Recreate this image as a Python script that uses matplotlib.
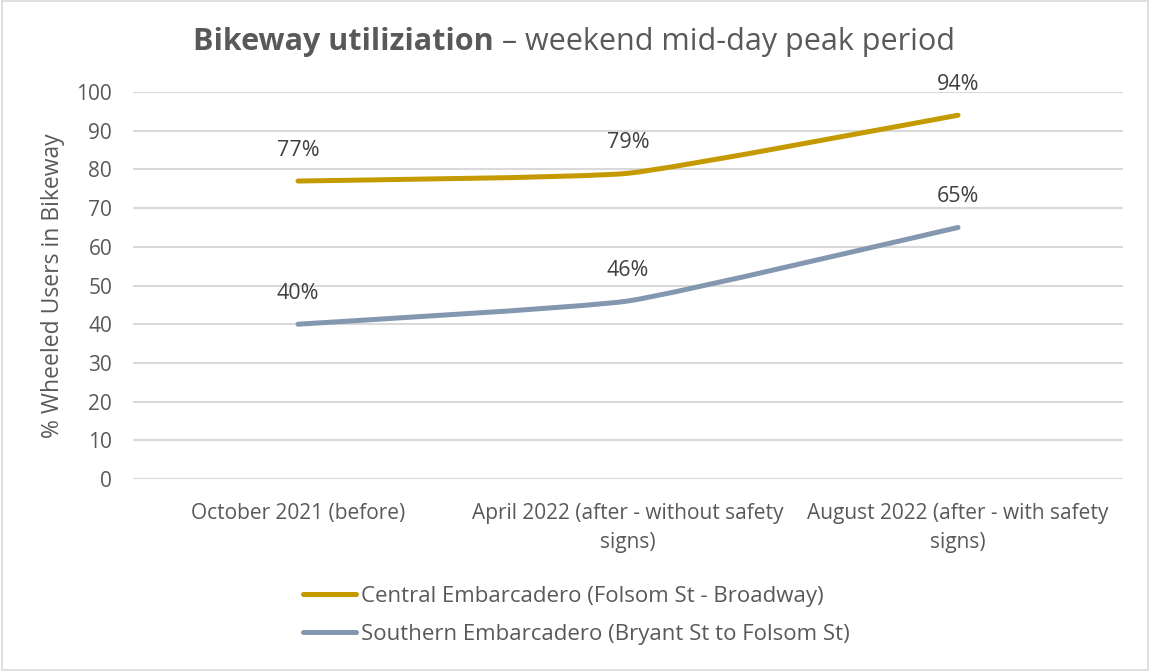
import matplotlib.pyplot as plt
from matplotlib.path import Path
from matplotlib.patches import PathPatch, Rectangle
from matplotlib.lines import Line2D

categories = ["October 2021 (before)",
              "April 2022 (after - without safety\nsigns)",
              "August 2022 (after - with safety\nsigns)"]
central = [77, 79, 94]
southern = [40, 46, 65]
series_names = ["Central Embarcadero (Folsom St - Broadway)",
                "Southern Embarcadero (Bryant St to Folsom St)"]
colors = ["#C49A00", "#8497B0"]
yticks = list(range(0, 101, 10))

plt.rcParams['font.family'] = ['Open Sans', 'DejaVu Sans']
text_color = '#595959'


def smooth_path(xs, ys, k=0.07):
    # cubic bezier through the points, a mild version of excel's smoothed line
    pts = list(zip(xs, ys))
    n = len(pts)
    verts = [pts[0]]
    codes = [Path.MOVETO]
    for i in range(n - 1):
        p0 = pts[i - 1] if i > 0 else pts[i]
        p1 = pts[i]
        p2 = pts[i + 1]
        p3 = pts[i + 2] if i + 2 < n else pts[i + 1]
        c1 = (p1[0] + (p2[0] - p0[0]) * k, p1[1] + (p2[1] - p0[1]) * k)
        c2 = (p2[0] - (p3[0] - p1[0]) * k, p2[1] - (p3[1] - p1[1]) * k)
        verts += [c1, c2, p2]
        codes += [Path.CURVE4] * 3
    return Path(verts, codes)


fig = plt.figure(figsize=(11.5, 6.71), dpi=100)
ax = fig.add_axes([133 / 1150, 1 - 479 / 671, 990 / 1150, 387 / 671])

x = list(range(len(categories)))
for vals, c in zip([central, southern], colors):
    ax.add_patch(PathPatch(smooth_path(x, vals), facecolor='none', edgecolor=c,
                           lw=3.6, capstyle='round', joinstyle='round', zorder=3))
    for xi, v in zip(x, vals):
        ax.annotate(f"{v}%", (xi, v), xytext=(0, 22), textcoords='offset points',
                    ha='center', va='center', fontsize=15.5, color='#404040')

ax.set_xlim(-0.5, len(categories) - 0.5)
ax.set_ylim(0, 100)
ax.set_yticks(yticks)
ax.set_xticks(x)
ax.set_xticklabels(categories, fontsize=15, color=text_color, linespacing=1.55)
ax.tick_params(axis='y', length=0, pad=15, labelsize=15, labelcolor=text_color)
ax.tick_params(axis='x', length=0, pad=17)
ax.grid(axis='y', color='#D9D9D9', lw=1.5)
ax.set_axisbelow(True)
for s in ax.spines.values():
    s.set_visible(False)
ax.set_ylabel("% Wheeled Users in Bikeway", fontsize=16.5, color=text_color, labelpad=8)

handles = [Line2D([], [], color=c, lw=3.6, solid_capstyle='round') for c in colors]
fig.legend(handles, series_names, loc='upper left', bbox_to_anchor=(303 / 1150, 1 - 586 / 671),
           frameon=False, fontsize=16, labelcolor=text_color, handlelength=2.4,
           handletextpad=0.2, labelspacing=0.75, borderpad=0, borderaxespad=0)

# title: bold part + normal part
t1 = fig.text(193 / 1150, 1 - 50 / 671, "Bikeway utiliziation", fontsize=22,
              fontweight='bold', color=text_color, va='baseline', ha='left')
fig.canvas.draw()
bb = t1.get_window_extent()
fig.text(bb.x1 / 1150, 1 - 50 / 671, " \u2013 weekend mid-day peak period", fontsize=22,
         color=text_color, va='baseline', ha='left')

fig.patches.append(Rectangle((0.002, 0.002), 0.996, 0.996, transform=fig.transFigure,
                             fill=False, edgecolor='#D9D9D9', lw=1.2))

fig.savefig('out.png', dpi=100)
